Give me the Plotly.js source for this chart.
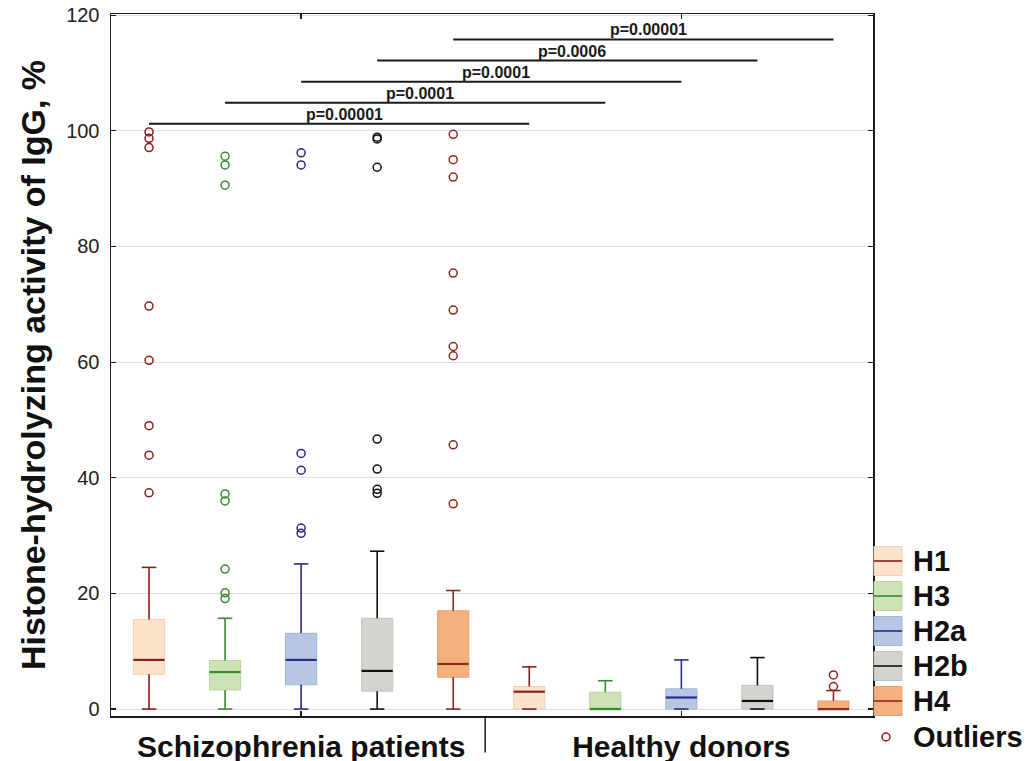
<!DOCTYPE html>
<html>
<head>
<meta charset="utf-8">
<script src="https://cdn.plot.ly/plotly-3.0.1.min.js"></script>
<style>
  html, body { margin: 0; padding: 0; background: #ffffff; }
  #chart { width: 1032px; height: 761px; }
</style>
</head>
<body>
<div id="chart"></div>
<script>
// ---------------- data ----------------
const histones = ['H1', 'H3', 'H2a', 'H2b', 'H4'];
const groups = ['Schizophrenia patients', 'Healthy donors'];
const yTickValues = [0, 20, 40, 60, 80, 100, 120];

const lowerSchizo  = [0, 0, 0, 0, 0];
const q1Schizo     = [6.0, 3.3, 4.2, 3.1, 5.5];
const medianSchizo = [8.5, 6.4, 8.5, 6.6, 7.8];
const q3Schizo     = [15.5, 8.4, 13.1, 15.7, 17.0];
const upperSchizo  = [24.5, 15.7, 25.1, 27.3, 20.5];

const lowerHealthy  = [0, 0, 0, 0, 0];
const q1Healthy     = [0, 0, 0, 0, 0];
const medianHealthy = [3.0, 0, 2.0, 1.4, 0];
const q3Healthy     = [3.9, 2.9, 3.5, 4.1, 1.4];
const upperHealthy  = [7.3, 4.9, 8.5, 8.9, 3.2];

const outliersSchizo = [
  [99.8, 98.7, 97.1, 69.7, 60.3, 49.0, 43.9, 37.4],
  [95.6, 94.1, 90.6, 37.2, 36.0, 24.2, 20.1, 19.1],
  [96.2, 94.1, 44.2, 41.3, 31.3, 30.4],
  [98.9, 98.6, 93.7, 46.7, 41.5, 38.0, 37.3],
  [99.4, 95.0, 92.0, 75.4, 69.0, 62.7, 61.1, 45.7, 35.5]
];
const outliersHealthy = [[], [], [], [], [5.9, 3.9]];

// significance brackets: schizophrenia box i vs healthy box i
const pLabels = ['p=0.00001', 'p=0.0001', 'p=0.0001', 'p=0.0006', 'p=0.00001'];

// ---------------- styles ----------------
const fillColors = ['#fde3cb', '#cbe3b5', '#b6c6e3', '#d5d3cf', '#f5b07f'];
const edgeColors = ['#f2d0b4', '#b9d6a0', '#a3b5d6', '#c4c2be', '#eaa06c'];
const lineColors = ['#8b1e1e', '#3a8a34', '#2c2a86', '#111111', '#8b2b1c'];
const FONT = 'Liberation Sans, Arial, Helvetica, sans-serif';
const BOX_W = 0.41;
const CAP_W = 0.19;

const lowers  = [lowerSchizo, lowerHealthy];
const q1s     = [q1Schizo, q1Healthy];
const medians = [medianSchizo, medianHealthy];
const q3s     = [q3Schizo, q3Healthy];
const uppers  = [upperSchizo, upperHealthy];
const outs    = [outliersSchizo, outliersHealthy];
const nH = histones.length;
const posOf = (g, h) => g * nH + h + 1;

const traces = [];
// box bodies
histones.forEach((name, h) => {
  traces.push({
    type: 'box', name: name, showlegend: false, hoverinfo: 'skip',
    x: groups.map((_, g) => posOf(g, h)),
    q1: groups.map((_, g) => q1s[g][h]),
    median: groups.map((_, g) => medians[g][h]),
    q3: groups.map((_, g) => q3s[g][h]),
    lowerfence: groups.map((_, g) => q1s[g][h]),
    upperfence: groups.map((_, g) => q3s[g][h]),
    width: BOX_W, whiskerwidth: 0, boxpoints: false,
    fillcolor: fillColors[h],
    line: { color: edgeColors[h], width: 1 }
  });
});
// whiskers + caps
histones.forEach((name, h) => {
  const xs = [], ys = [];
  groups.forEach((_, g) => {
    const xc = posOf(g, h);
    const lf = lowers[g][h], q1 = q1s[g][h], q3 = q3s[g][h], uf = uppers[g][h];
    xs.push(xc, xc, null, xc, xc, null,
            xc - CAP_W / 2, xc + CAP_W / 2, null, xc - CAP_W / 2, xc + CAP_W / 2, null);
    ys.push(lf, q1, null, q3, uf, null, lf, lf, null, uf, uf, null);
  });
  traces.push({
    type: 'scatter', mode: 'lines', x: xs, y: ys, showlegend: false, hoverinfo: 'skip',
    line: { color: lineColors[h], width: 1.6 }
  });
});
// medians
histones.forEach((name, h) => {
  const xs = [], ys = [];
  groups.forEach((_, g) => {
    const xc = posOf(g, h);
    xs.push(xc - BOX_W / 2, xc + BOX_W / 2, null);
    ys.push(medians[g][h], medians[g][h], null);
  });
  traces.push({
    type: 'scatter', mode: 'lines', x: xs, y: ys, showlegend: false, hoverinfo: 'skip',
    line: { color: lineColors[h], width: 2.2 }
  });
});
// outliers
histones.forEach((name, h) => {
  const xs = [], ys = [];
  groups.forEach((_, g) => {
    outs[g][h].forEach(v => { xs.push(posOf(g, h)); ys.push(v); });
  });
  traces.push({
    type: 'scatter', mode: 'markers', x: xs, y: ys, showlegend: false,
    name: name + ' outliers',
    marker: { symbol: 'circle-open', size: 8, color: lineColors[h], line: { width: 1.5, color: lineColors[h] } }
  });
});

// ---------------- shapes / annotations ----------------
const shapes = [];
const annotations = [];
const BR_BASE = 101.2, BR_STEP = 3.65;
pLabels.forEach((lab, i) => {
  const yb = BR_BASE + i * BR_STEP;
  const x0 = posOf(0, i), x1 = posOf(1, i);
  shapes.push({ type: 'line', xref: 'x', yref: 'y', x0: x0, x1: x1, y0: yb, y1: yb,
                line: { color: '#1a1a1a', width: 2 } });
  annotations.push({ xref: 'x', yref: 'y', x: (x0 + x1) / 2, y: yb, xshift: 5, yshift: -1,
                     text: lab, showarrow: false, xanchor: 'center', yanchor: 'bottom',
                     font: { family: FONT, size: 16, color: '#1a1a1a', weight: 'bold' } });
});
// group separator below the axis
shapes.push({ type: 'line', xref: 'x', yref: 'paper', x0: 5.42, x1: 5.42, y0: 0, y1: -0.052,
              line: { color: '#1a1a1a', width: 1.5 } });

// custom legend (to the right of the plot)
const PLOT_L = 111, PLOT_W = 762, PLOT_B = 716, PLOT_H = 702;
const px2x = p => (p - PLOT_L) / PLOT_W;
const px2y = p => (PLOT_B - p) / PLOT_H;
const LEG_TOP = 561, LEG_STEP = 35, PATCH_H = 29, PATCH_X0 = 874, PATCH_X1 = 902, TEXT_X = 911;
histones.forEach((name, h) => {
  const yc = LEG_TOP + h * LEG_STEP;
  shapes.push({ type: 'rect', xref: 'paper', yref: 'paper',
                x0: px2x(PATCH_X0), x1: px2x(PATCH_X1),
                y0: px2y(yc - PATCH_H / 2), y1: px2y(yc + PATCH_H / 2),
                fillcolor: fillColors[h], line: { color: edgeColors[h], width: 1 } });
  shapes.push({ type: 'line', xref: 'paper', yref: 'paper',
                x0: px2x(PATCH_X0), x1: px2x(PATCH_X1), y0: px2y(yc), y1: px2y(yc),
                line: { color: lineColors[h], width: 1.6 } });
  annotations.push({ xref: 'paper', yref: 'paper', x: px2x(TEXT_X), y: px2y(yc),
                     xanchor: 'left', yanchor: 'middle', showarrow: false, text: name,
                     font: { family: FONT, size: 29, color: '#111', weight: 'bold' } });
});
{
  const yc = LEG_TOP + nH * LEG_STEP + 1;
  const cx = 886, r = 4;
  shapes.push({ type: 'circle', xref: 'paper', yref: 'paper',
                x0: px2x(cx - r), x1: px2x(cx + r), y0: px2y(yc + r), y1: px2y(yc - r),
                line: { color: lineColors[0], width: 1.5 } });
  annotations.push({ xref: 'paper', yref: 'paper', x: px2x(TEXT_X), y: px2y(yc),
                     xanchor: 'left', yanchor: 'middle', showarrow: false, text: 'Outliers',
                     font: { family: FONT, size: 29, color: '#111', weight: 'bold' } });
}

const layout = {
  width: 1032, height: 761,
  margin: { l: 111, r: 159, t: 14, b: 45 },
  paper_bgcolor: '#ffffff', plot_bgcolor: '#ffffff',
  showlegend: false,
  font: { family: FONT, color: '#222' },
  xaxis: {
    range: [0.5, 10.52], tickmode: 'array',
    tickvals: groups.map((_, g) => posOf(g, 2)), ticktext: groups,
    ticks: 'inside', ticklen: 5, tickwidth: 1.5, tickcolor: '#1a1a1a',
    tickfont: { family: FONT, size: 30, color: '#111', weight: 'bold' },
    ticklabelstandoff: 3,
    showgrid: false, zeroline: false,
    showline: true, linecolor: '#1a1a1a', linewidth: 1.5, mirror: 'ticks'
  },
  yaxis: {
    range: [-1.2, 120.2], tickmode: 'array', tickvals: yTickValues,
    ticks: 'inside', ticklen: 5, tickwidth: 1.2, tickcolor: '#1a1a1a',
    tickfont: { family: FONT, size: 20, color: '#222' },
    ticklabelstandoff: 6,
    showgrid: true, gridcolor: '#dddddd', gridwidth: 1, zeroline: false,
    showline: true, linecolor: '#1a1a1a', linewidth: 1.5, mirror: 'ticks',
    automargin: false,
    title: { text: 'Histone-hydrolyzing activity of IgG, %', standoff: 10,
             font: { family: FONT, size: 34, color: '#111', weight: 'bold' } }
  },
  shapes: shapes,
  annotations: annotations
};

Plotly.newPlot('chart', traces, layout, { displayModeBar: false, staticPlot: true });
</script>
</body>
</html>
